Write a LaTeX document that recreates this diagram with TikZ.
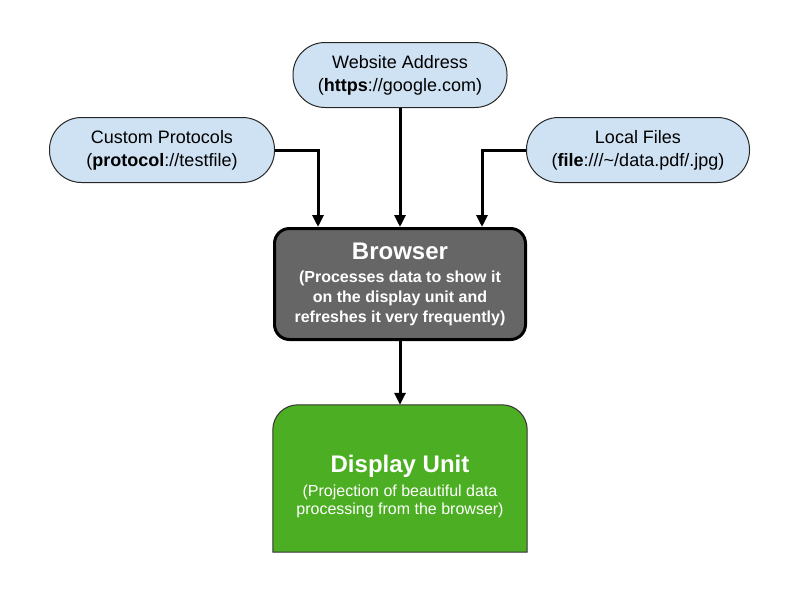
\documentclass[tikz,border=0pt]{standalone}
\usepackage{fontspec}
\setmainfont{Liberation Sans}
\usetikzlibrary{arrows.meta}

\definecolor{pillblue}{HTML}{CFE2F3}
\definecolor{boxgrey}{HTML}{666666}
\definecolor{boxgreen}{HTML}{4CAE22}

\tikzset{
	pill/.style={draw=black!85, line width=1pt, fill=pillblue, rounded corners=32pt,
		minimum height=65pt, align=center, font=\fontsize{18}{23}\selectfont},
	procbox/.style={draw=black, line width=3pt, fill=boxgrey, rounded corners=15pt,
		minimum width=251pt, minimum height=111pt, align=center, text=white,
		font=\fontsize{16}{20}\selectfont\bfseries},
	dispbox/.style={minimum width=254pt, minimum height=147pt},
	disptext/.style={align=center, text=white, font=\fontsize{16}{18}\selectfont},
	arr/.style={line width=3pt, -{Triangle[length=12pt,width=11pt]}}
}

\begin{document}
\begin{tikzpicture}[x=1pt,y=-1pt]
		\useasboundingbox (0,0) rectangle (800,600);
		\node (custom) at (162,150) [pill, minimum width=225pt] {Custom Protocols\\(\textbf{protocol}://testfile)};
		\node (web) at (400,75) [pill, minimum width=214pt] {Website Address\\(\textbf{https}://google.com)};
		\node (local) at (638,150) [pill, minimum width=223pt] {Local Files\\(\textbf{file}:///\textasciitilde/data.pdf/.jpg)};
		\node (browser) at (400,284) [procbox] {{\fontsize{24}{28}\selectfont Browser}\\[3pt]
			(Processes data to show it\\on the display unit and\\refreshes it very frequently)};
		\node (disp) at (400,478.5) [dispbox] {};
		\fill [boxgreen, draw=black!80, line width=1pt] (disp.south west) -- ([yshift=-25pt]disp.north west)
			arc[start angle=180, end angle=90, radius=25pt] -- ([xshift=-25pt]disp.north east)
			arc[start angle=90, end angle=0, radius=25pt] -- (disp.south east) -- cycle;
		\node (disptext) at ([yshift=-8pt]disp.center) [disptext] {{\fontsize{24}{28}\selectfont\bfseries Display Unit}\\[6pt]
			(Projection of beautiful data\\processing from the browser)};
		
		\draw [arr] (custom.east) -| ([xshift=-82pt]browser.north);
		\draw [arr] (web) -- (browser);
		\draw [arr] (local.west) -| ([xshift=82pt]browser.north);
		\draw [arr] (browser) -- (disp);
		\end{tikzpicture}
\end{document}
